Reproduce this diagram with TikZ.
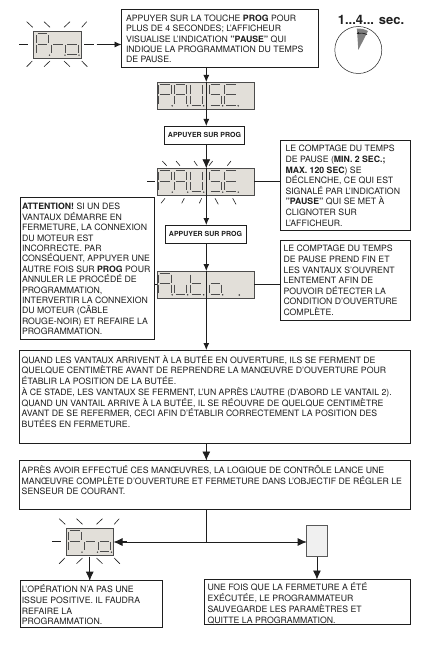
\documentclass[tikz,border=0pt]{standalone}
\usepackage{fontspec}
\setmainfont{TeX Gyre Heros}
\usetikzlibrary{arrows.meta,calc}
\definecolor{lcd}{HTML}{E2DFD9}
\definecolor{ink}{HTML}{1E1E1E}
\newcommand{\bx}[6]{\parbox[c][#2pt][t]{#1pt}{\fontsize{8.72pt}{#3pt}\selectfont\raggedright\leftskip=#4pt\vspace*{#5pt}#6}}
\def\dgw{12.5}
\def\dgh{21}
\newcommand{\sga}{\draw[seg] (1.5,0)--(11,0);}
\newcommand{\sgb}{\draw[seg] (12.5,1.3)--(12.5,9.5);}
\newcommand{\sgc}{\draw[seg] (12.5,11.5)--(12.5,19.7);}
\newcommand{\sgd}{\draw[seg] (1.5,21)--(11,21);}
\newcommand{\sge}{\draw[seg] (0,11.5)--(0,19.7);}
\newcommand{\sgf}{\draw[seg] (0,1.3)--(0,9.5);}
\newcommand{\sgg}{\draw[seg] (1.5,10.5)--(11,10.5);}
\newcommand{\dig}[3]{\begin{scope}[shift={(#1,#2)}]\foreach \s in {#3}{\csname sg\s\endcsname}\fill[black!80] (13.5,21.6) circle (.8);\end{scope}}
\newcommand{\ProDigits}[2]{\begin{scope}[shift={(#1,#2)}]\dig{2.5}{2.5}{a,b,e,f,g}\dig{18}{2.5}{e,g}\dig{32}{2.5}{c,d,e,g}\end{scope}}
\newcommand{\PauseDigits}[2]{\begin{scope}[shift={(#1,#2)}]\dig{1.5}{2.2}{a,b,e,f,g}\dig{17}{2.2}{a,b,c,e,f,g}\dig{33}{2.2}{b,c,d,e,f}\dig{52}{2.2}{a,c,d,f,g}\dig{67.5}{2.2}{a,d,e,f,g}\end{scope}}
\newcommand{\ProRays}[2]{\begin{scope}[shift={(#1,#2)}]
\foreach \a/\b/\c/\d in {26.7/21.7/32.7/27.3,44/21.7/50/27.3,64/27.3/70/21.7,81.7/27.3/86.7/21.7,26.7/66.7/32.3/61,44/66.7/50/61,64/61/70/66.7,81.7/61/87.3/66.7,19.3/44/28.3/44,84/44/94/44}{\draw[ray] (\a,\b)--(\c,\d);}
\end{scope}}
\tikzset{
  box/.style={draw=ink,line width=.8pt,fill=white,inner sep=0pt,outer sep=0pt,anchor=north west,text=ink},
  lcdbox/.style={draw=black!70,line width=.9pt,fill=lcd,inner sep=0pt,outer sep=0pt,anchor=north west},
  seg/.style={draw=black!70,line width=.9pt},
  ray/.style={draw=ink,line width=.6pt},
  conn/.style={draw=ink,line width=.8pt},
  arr/.style={conn,-{Latex[length=7pt,width=6pt]}},
  bigarr/.style={conn,-{Latex[length=9pt,width=8pt]}},
  press/.style={box,inner sep=0pt,minimum height=18pt,font=\bfseries\fontsize{7pt}{8pt}\selectfont,align=center}
}
\begin{document}
\begin{tikzpicture}[x=1pt,y=-1pt]
\useasboundingbox (0,0) rectangle (420,647);
\coordinate (m) at (206.3,0);
% boxes
\node[box] (top) at (121.5,9.5) {\bx{196.5}{57.5}{10.4}{4.5}{5.3}{APPUYER SUR LA TOUCHE \textbf{PROG} POUR\\PLUS DE 4 SECONDES; L'AFFICHEUR\\VISUALISE L'INDICATION \textbf{"PAUSE"} QUI\\INDIQUE LA PROGRAMMATION DU TEMPS\\DE PAUSE.}};
\node[box] (rone) at (280,140) {\bx{130}{90}{10.6}{5.5}{5.3}{LE COMPTAGE DU TEMPS\\DE PAUSE (\textbf{MIN. 2 SEC.;}\\\textbf{MAX. 120 SEC}) SE\\DÉCLENCHE, CE QUI EST\\SIGNALÉ PAR L'INDICATION\\\textbf{"PAUSE"} QUI SE MET À\\CLIGNOTER SUR\\L'AFFICHEUR.}};
\node[box] (left) at (20,197) {\bx{134}{142.3}{10.4}{2}{6.3}{\textbf{ATTENTION!} SI UN DES\\VANTAUX DÉMARRE EN\\FERMETURE, LA CONNEXION\\DU MOTEUR EST\\INCORRECTE. PAR\\CONSÉQUENT, APPUYER UNE\\AUTRE FOIS SUR \textbf{PROG} POUR\\ANNULER LE PROCÉDÉ DE\\PROGRAMMATION,\\INTERVERTIR LA CONNEXION\\DU MOTEUR (CÂBLE\\ROUGE-NOIR) ET REFAIRE LA\\PROGRAMMATION.}};
\node[box] (rtwo) at (280,240) {\bx{130}{80}{10.6}{3.5}{5.3}{LE COMPTAGE DU TEMPS\\DE PAUSE PREND FIN ET\\LES VANTAUX S'OUVRENT\\LENTEMENT AFIN DE\\POUVOIR DÉTECTER LA\\CONDITION D'OUVERTURE\\COMPLÈTE.}};
\node[box] (bigone) at (19.5,350) {\bx{391}{93}{10.7}{2.2}{5.3}{QUAND LES VANTAUX ARRIVENT À LA BUTÉE EN OUVERTURE, ILS SE FERMENT DE\\QUELQUE CENTIMÈTRE AVANT DE REPRENDRE LA MANŒUVRE D'OUVERTURE POUR\\ÉTABLIR LA POSITION DE LA BUTÉE.\\À CE STADE, LES VANTAUX SE FERMENT, L'UN APRÈS L'AUTRE (D'ABORD LE VANTAIL 2).\\QUAND UN VANTAIL ARRIVE À LA BUTÉE, IL SE RÉOUVRE DE QUELQUE CENTIMÈTRE\\AVANT DE SE REFERMER, CECI AFIN D'ÉTABLIR CORRECTEMENT LA POSITION DES\\BUTÉES EN FERMETURE.}};
\node[box] (bigtwo) at (19.5,460.5) {\bx{391}{48.5}{10.7}{2.2}{4.8}{APRÈS AVOIR EFFECTUÉ CES MANŒUVRES, LA LOGIQUE DE CONTRÔLE LANCE UNE\\MANŒUVRE COMPLÈTE D'OUVERTURE ET FERMETURE DANS L'OBJECTIF DE RÉGLER LE\\SENSEUR DE COURANT.}};
\node[box] (fail) at (20,580.7) {\bx{142.5}{46.5}{10.6}{1.8}{4.3}{L'OPÉRATION N'A PAS UNE\\ISSUE POSITIVE. IL FAUDRA\\REFAIRE LA\\PROGRAMMATION.}};
\node[box] (done) at (204.5,579.5) {\bx{205.5}{44.5}{11}{3}{3.2}{UNE FOIS QUE LA FERMETURE A ÉTÉ\\EXÉCUTÉE, LE PROGRAMMATEUR\\SAUVEGARDE LES PARAMÈTRES ET\\QUITTE LA PROGRAMMATION.}};
\node[press,minimum width=80pt] (pone) at (164.5,126) {APPUYER SUR PROG};
\node[press,minimum width=81pt] (ptwo) at (165,225) {APPUYER SUR PROG};
% displays
\node[lcdbox,minimum width=47.5pt,minimum height=27pt] (proa) at (33.5,31) {};
\ProDigits{33.5}{31}
\ProRays{0}{0}
\node[lcdbox,minimum width=97pt,minimum height=27pt] (pausea) at (157.2,82) {};
\PauseDigits{157.2}{82}
\node[lcdbox,minimum width=97pt,minimum height=27pt] (pauseb) at (157.2,168.3) {};
\PauseDigits{157.2}{168.3}
\node[lcdbox,minimum width=97pt,minimum height=27pt] (auto) at (157.2,271) {};
\begin{scope}[shift={(157.2,271)}]
\dig{1.5}{2.2}{a,b,c,e,f,g}\dig{17}{2.2}{c,d,e}\dig{33}{2.2}{d,e,f,g}\dig{52}{2.2}{c,d,e,g}
\fill[black!80] (82,24) circle (.8);
\end{scope}
\node[lcdbox,minimum width=47.5pt,minimum height=27pt] (prob) at (66,528) {};
\ProDigits{66}{528}
\ProRays{32.5}{497}
\node[lcdbox,draw=black!65,line width=1.3pt,fill=black!6,minimum width=20.5pt,minimum height=31pt] (blank) at (306.7,525.8) {};
% rays round PAUSE
\foreach \a/\b/\c/\d in {162.3/161/166.7/165.7,176/161/180/165.7,194/161/197.3/165.7,209/165.7/212.7/161,227.3/165.7/231/161,161/203.3/165/198.3,181.7/203.3/184.3/198.3,199.3/203.3/201.7/198.3,215/198.3/218.3/204.3,232.7/198.3/236/204.3,147.3/181/155/181}{\draw[ray] (\a,\b)--(\c,\d);}
% separators
\draw[conn] (pausea.north -| m) -- (pausea.south -| m);
\draw[conn] (pauseb.north -| m) -- (pauseb.south -| m);
\draw[conn] (auto.north -| m) -- (auto.south -| m);
% connectors
\coordinate (proout) at (96.5,44.5);
\draw[arr] (proout) -- (proout -| top.west);
\draw[arr] (top.south -| m) -- (pausea.north -| m);
\draw[arr] (pausea.south -| m) -- (pone.north -| m);
\draw[bigarr] (pone.south -| m) -- (pauseb.north -| m);
\draw[arr] (pauseb.south -| m) -- (ptwo.north -| m);
\draw[arr] (ptwo.south -| m) -- (auto.north -| m);
\draw[arr] (auto.south -| m) -- (bigone.north -| m);
\draw[bigarr] (bigone.south -| m) -- (bigtwo.north -| m);
\draw[conn] (pauseb.east) -- (pauseb.east -| rone.west);
\draw[conn] (auto.east) -- (auto.east -| rtwo.west);
\draw[conn] (auto.west) -- (auto.west -| left.east);
\coordinate (split) at (206.3,542);
\draw[conn] (bigtwo.south -| m) -- (split);
\draw[bigarr] (split) -- (split -| prob.east);
\draw[bigarr] (split) -- (split -| blank.west);
\draw[bigarr] ($(prob.south)+(0,1.5)$) -- (prob.south |- fail.north);
\draw[bigarr] (blank.south) -- (blank.south |- done.north);
% clock
\coordinate (cc) at (358.3,50);
\node[font=\bfseries\fontsize{13pt}{15pt}\selectfont,text=ink,inner sep=0pt] (clk) at (371,20) {1...4... sec.};
\draw[draw=ink,line width=.5pt] (cc) circle (23.5);
\fill[black!50] (cc) -- (356.9,28.5) to[bend left=14] (368,31) -- cycle;
\draw[ink,line width=.7pt,-{Latex[length=2.5pt,width=2.5pt]}] (367,34.5) to[bend right=18] (356.5,33.8);
\end{tikzpicture}
\end{document}
